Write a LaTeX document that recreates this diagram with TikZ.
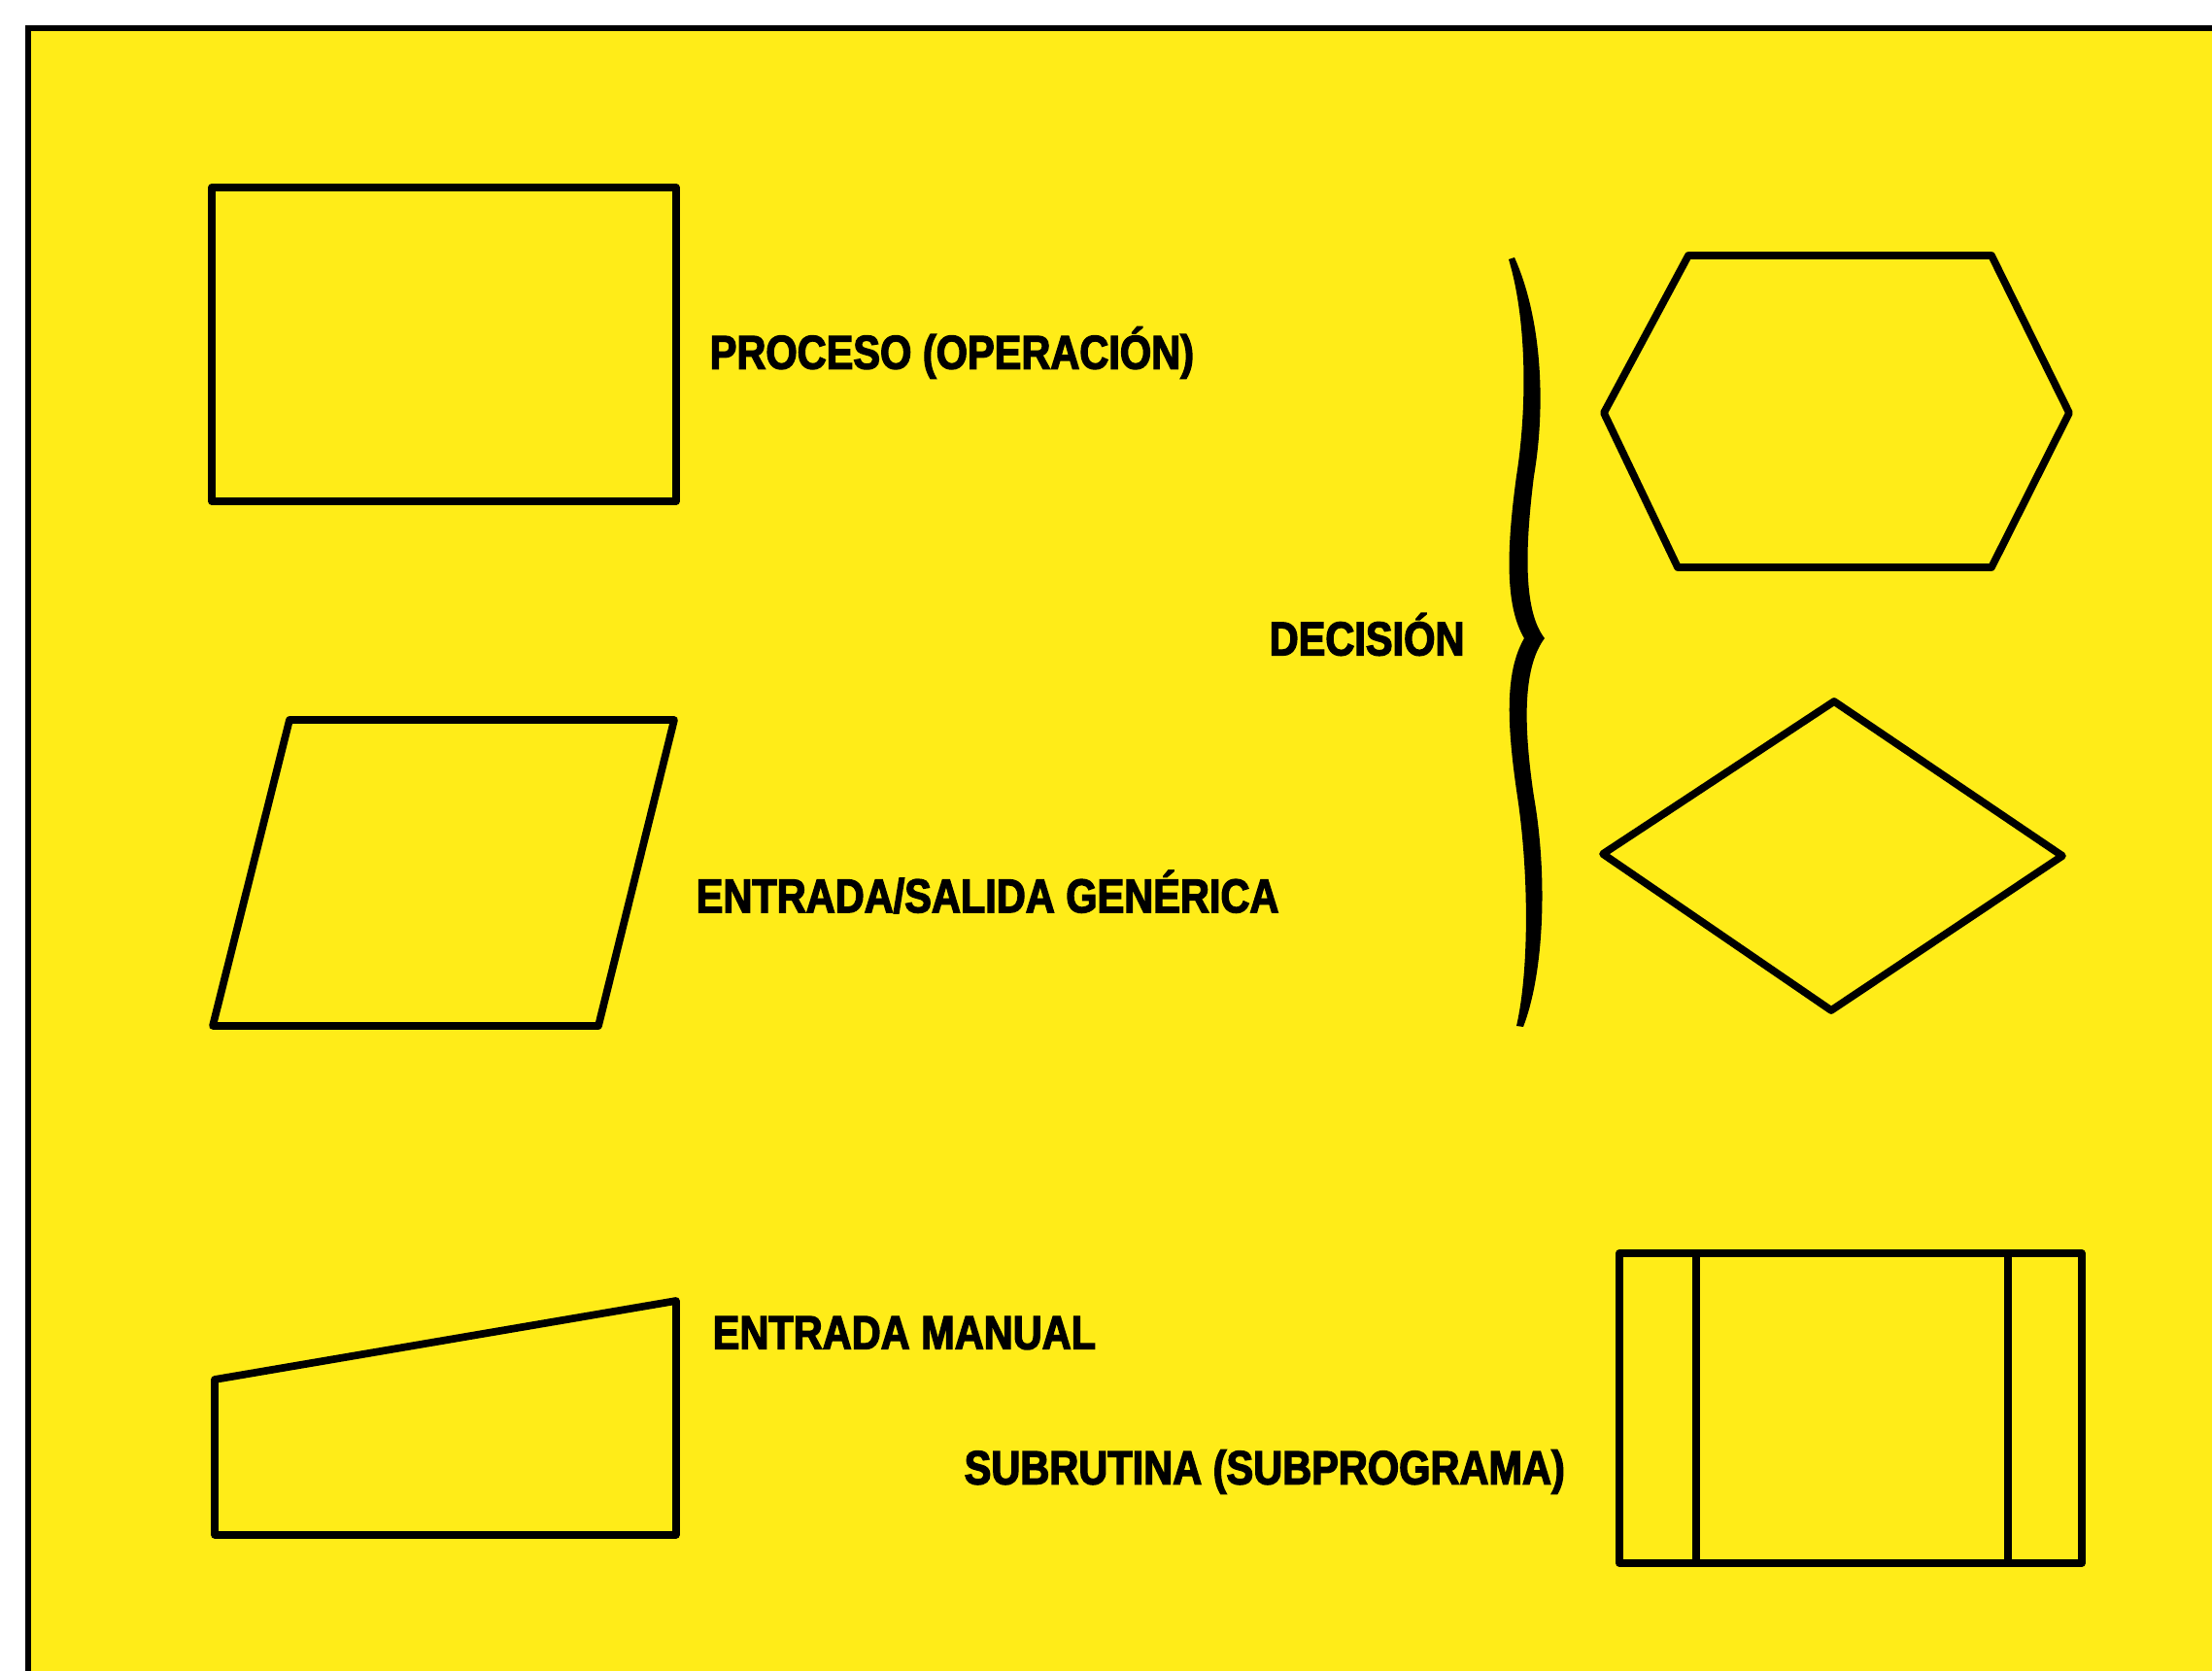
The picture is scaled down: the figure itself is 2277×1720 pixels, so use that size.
\documentclass[tikz,border=0pt]{standalone}
\usepackage{fontspec}
\newfontfamily\lblfont[FakeStretch=0.85,FakeBold=2.8]{Liberation Sans Bold}
\definecolor{cardyellow}{RGB}{255,236,24}
\tikzset{
    symbol/.style={line width=2.2pt, line join=round},
    lbl/.style={anchor=west, inner sep=0pt, font=\lblfont\fontsize{13.9}{16}\selectfont}
}
\begin{document}
\begin{tikzpicture}[x=0.1mm, y=-0.1mm]
    \useasboundingbox (0,0) rectangle (2277,1720);
    \fill[cardyellow] (29,29) rectangle (2277,1720);
    \draw[line width=1.8pt] (29,1720) -- (29,29) -- (2277,29);
    % left column
    \draw[symbol] (218,193) rectangle (696,516);
    \node[lbl] (proceso) at (730,363) {PROCESO (OPERACIÓN)};
    \draw[symbol] (298,741) -- (694,741) -- (616,1056) -- (219,1056) -- cycle;
    \node[lbl] (entsal) at (716,918) {ENTRADA/SALIDA GENÉRICA};
    \draw[symbol] (221,1420) -- (696,1339) -- (696,1580) -- (221,1580) -- cycle;
    \node[lbl] (manual) at (733,1372) {ENTRADA MANUAL};
    % decision brace
    \fill (1559,265) .. controls (1588,330) and (1591,420) .. (1579,490)
        .. controls (1569,570) and (1569,630) .. (1590,657)
        .. controls (1569,685) and (1567,740) .. (1579,820)
        .. controls (1593,900) and (1590,1000) .. (1568,1057)
        -- (1561,1056)
        .. controls (1574,1000) and (1574,900) .. (1562,820)
        .. controls (1550,740) and (1550,690) .. (1569,657)
        .. controls (1550,625) and (1550,570) .. (1561,490)
        .. controls (1572,420) and (1572,330) .. (1553,267) -- cycle;
    \node[lbl] (decision) at (1306,653) {DECISIÓN};
    % right column
    \draw[symbol] (1738,263) -- (2050,263) -- (2130,425) -- (2050,584)
        -- (1727,584) -- (1651,425) -- cycle;
    \draw[symbol] (1888,722) -- (2123,881) -- (1885,1040) -- (1650,879) -- cycle;
    \draw[symbol] (1667,1290) rectangle (2143,1609);
    \draw[symbol] (1746,1290) -- (1746,1609);
    \draw[symbol] (2067,1290) -- (2067,1609);
    \node[lbl] (subrutina) at (992,1515) {SUBRUTINA (SUBPROGRAMA)};
\end{tikzpicture}
\end{document}
